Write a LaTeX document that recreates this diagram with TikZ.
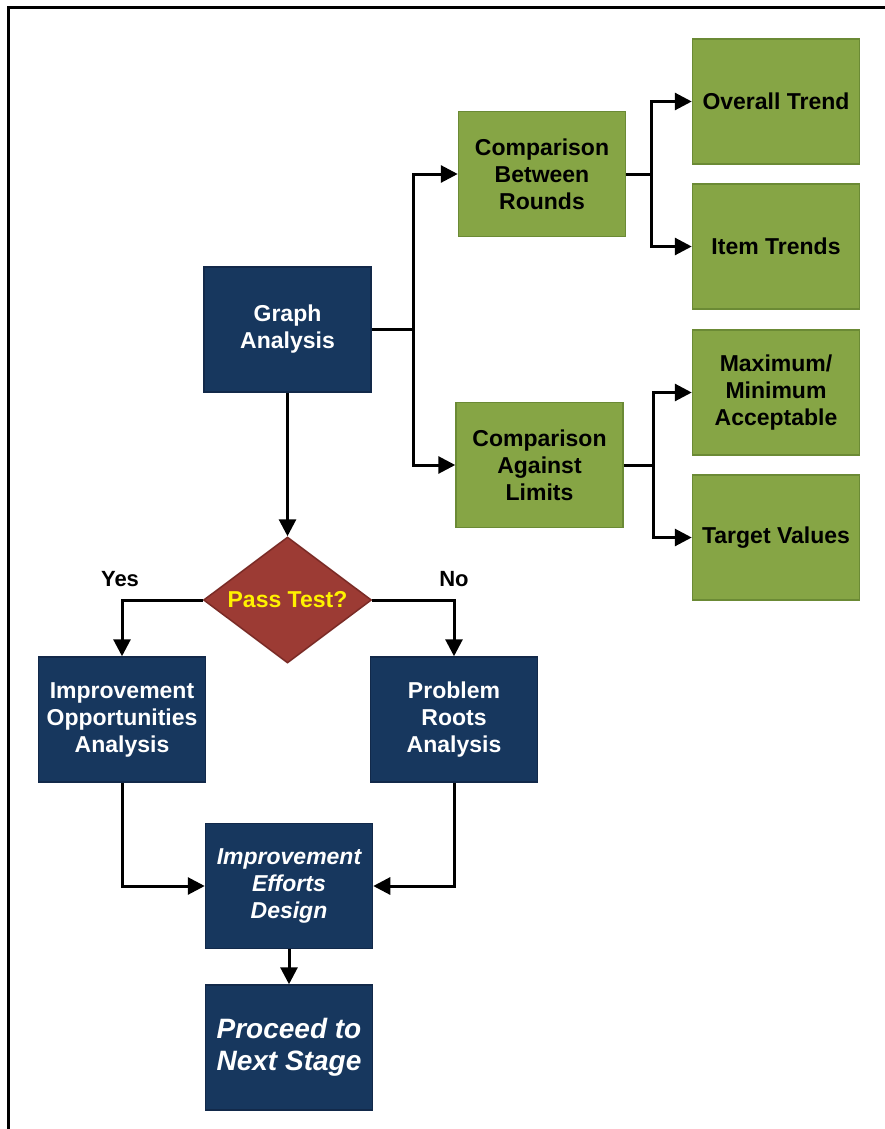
\documentclass[tikz,border=0pt]{standalone}
\usepackage{fontspec}
\setmainfont{Liberation Sans}
\usetikzlibrary{arrows.meta,shapes.geometric}
\definecolor{navy}{HTML}{17375E}
\definecolor{navyb}{HTML}{12294A}
\definecolor{leaf}{HTML}{86A545}
\definecolor{leafb}{HTML}{6B8A35}
\definecolor{brick}{HTML}{9C3B34}
\definecolor{brickb}{HTML}{7A2B26}
\tikzset{
  box/.style={rectangle, minimum width=167pt, minimum height=125pt, inner sep=0pt, line width=1.5pt, align=center, font=\fontsize{23}{27}\selectfont\bfseries},
  bluebox/.style={box, fill=navy, draw=navyb, text=white},
  greenbox/.style={box, fill=leaf, draw=leafb, text=black},
  decision/.style={diamond, aspect=1.333, minimum width=168pt, minimum height=126pt, inner sep=0pt, fill=brick, draw=brickb, line width=1.5pt, text=yellow, font=\fontsize{23}{27}\selectfont\bfseries},
  conn/.style={line width=3pt, draw=black},
  arr/.style={conn, -{Triangle[length=17pt,width=17pt]}},
  lbl/.style={font=\fontsize{22}{26}\selectfont\bfseries, text=black}
}
\begin{document}
\begin{tikzpicture}[x=1pt,y=-1pt]
\useasboundingbox (0,0) rectangle (884,1129);
\fill[white] (0,0) rectangle (884,1129);
\draw[line width=3pt] (8,1135) -- (8,8) -- (890,8);

\node[bluebox] (ga) at (287.5,329.5) {\raisebox{-3pt}{\begin{tabular}{@{}c@{}}Graph\\Analysis\end{tabular}}};
\node[greenbox] (cbr) at (542,174) {Comparison\\Between\\Rounds};
\node[greenbox] (cal) at (539.5,465) {Comparison\\Against\\Limits};
\node[greenbox] (ot) at (776,101.5) {Overall Trend};
\node[greenbox] (it) at (776,246.5) {Item Trends};
\node[greenbox] (mm) at (776,392.5) {Maximum/\\Minimum\\Acceptable};
\node[greenbox] (tv) at (776,537.5) {Target Values};
\node[decision] (pt) at (287.5,600) {Pass Test?};
\node[bluebox] (ioa) at (122,719.5) {Improvement\\Opportunities\\Analysis};
\node[bluebox] (pra) at (454,719.5) {Problem\\Roots\\Analysis};
\node[bluebox, font=\fontsize{23}{27}\selectfont\bfseries\itshape] (ied) at (289,886) {Improvement\\Efforts\\Design};
\node[bluebox, font=\fontsize{28}{32}\selectfont\bfseries\itshape] (pns) at (289,1047.5) {Proceed to\\Next Stage};

\node[lbl] (yes) at (120,579) {Yes};
\node[lbl] (no) at (454,579) {No};

% Graph analysis to comparisons
\draw[conn] (ga.east) -- ++(42,0) coordinate (j1);
\draw[arr] (j1) |- (cbr.west);
\draw[arr] (j1) |- (cal.west);
% CBR to trends
\draw[conn] (cbr.east) -- ++(25,0) coordinate (j2);
\draw[arr] (j2) |- (ot.west);
\draw[arr] (j2) |- (it.west);
% CAL to limits
\draw[conn] (cal.east) -- ++(30,0) coordinate (j3);
\draw[arr] (j3) |- (mm.west);
\draw[arr] (j3) |- (tv.west);
% GA to decision
\draw[arr] (ga.south) -- (pt.north);
% decision branches
\draw[arr] (pt.west) -| (ioa.north);
\draw[arr] (pt.east) -| (pra.north);
% to design
\draw[arr] (ioa.south) |- (ied.west);
\draw[arr] (pra.south) |- (ied.east);
\draw[arr] (ied.south) -- (pns.north);
\end{tikzpicture}
\end{document}
